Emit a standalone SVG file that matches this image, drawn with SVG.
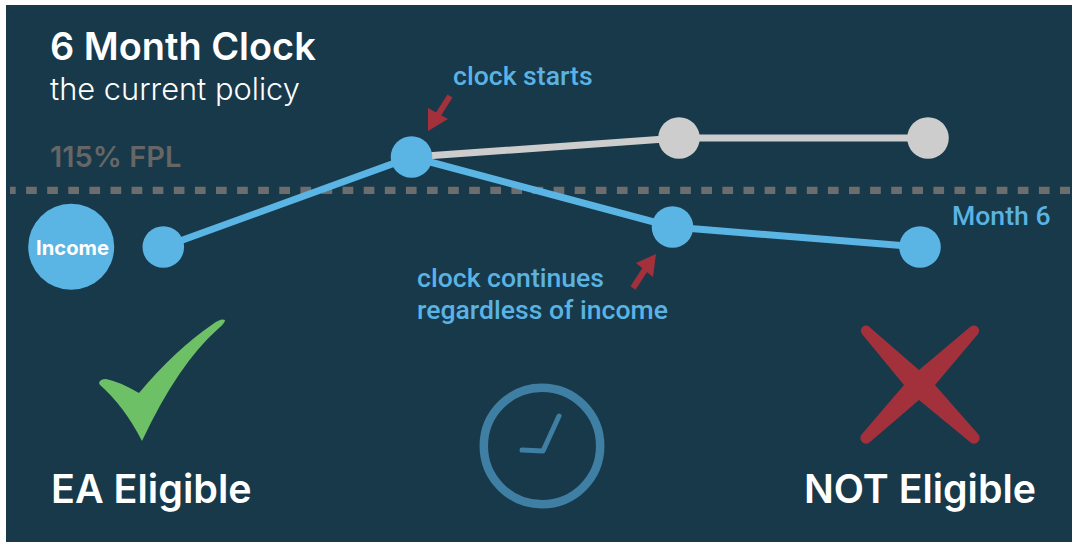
<svg xmlns="http://www.w3.org/2000/svg" width="1072" height="542" viewBox="0 0 1072 542">
<style>
.h{font-family:Inter,"Liberation Sans",sans-serif;fill:#fff;font-weight:600}
.l{font-family:Roboto,"Liberation Sans",sans-serif;fill:#5ab3e3;font-weight:500;font-size:26.6px}
.n{fill:#5ab4e4}.g{fill:#cdcdcd}
.c{fill:none;stroke-width:7}
</style>
<rect width="1072" height="542" fill="#fff"/>
<rect x="6" y="5" width="1066" height="537" fill="#17394a"/>
<g id="titles">
<text class="h" x="50" y="60" font-size="37.9" font-weight="700">6 Month Clock</text>
<text x="50" y="100" font-size="30.8" fill="#fff" font-weight="300" font-family="Inter,'Liberation Sans',sans-serif">the current policy</text>
<text x="50" y="167" font-size="29" fill="#666" font-weight="600" font-family="Inter,'Liberation Sans',sans-serif">115% FPL</text>
</g>
<line id="threshold" x1="10" y1="190.3" x2="1070" y2="190.3" stroke="#6d6d6d" stroke-width="7.3" stroke-dasharray="10.7 10.4" stroke-dashoffset="5"/>
<g id="connectors">
<polyline class="c" stroke="#cdcdcd" points="411.5,157 679,138 928,138"/>
<polyline class="c" stroke="#5ab4e4" points="163.3,247 411.5,157 672.5,227 920,247"/>
<line x1="450" y1="96" x2="436" y2="118" stroke="#a3313c" stroke-width="6"/>
<path d="M428 131L428 108L448 119Z" fill="#a3313c"/>
<line x1="633" y1="288" x2="646" y2="268" stroke="#a3313c" stroke-width="6"/>
<path d="M656 254L636 263L653 277Z" fill="#a3313c"/>
</g>
<g id="income"><circle class="n" cx="71.2" cy="246.8" r="43"/><text x="72.5" y="255" text-anchor="middle" font-size="20.2" font-weight="700" fill="#fff" font-family="Inter,'Liberation Sans',sans-serif">Income</text></g>
<g id="p0"><circle class="n" cx="163.3" cy="247" r="20.8"/></g>
<g id="p1"><circle class="n" cx="411.5" cy="157" r="20.8"/></g>
<g id="p2"><circle class="g" cx="679" cy="138" r="20.8"/></g>
<g id="p3"><circle class="g" cx="928" cy="138" r="20.8"/></g>
<g id="p4"><circle class="n" cx="672.5" cy="227" r="20.8"/></g>
<g id="p5"><circle class="n" cx="920" cy="247" r="20.8"/></g>
<text class="l" x="453" y="85">clock starts</text>
<text class="l" x="952" y="225">Month 6</text>
<text class="l" x="417" y="287">clock continues</text>
<text class="l" x="417" y="319">regardless of income</text>
<g id="eligible">
<path d="M99 383Q100 379 106 379Q118 381 139 393Q175 350 213 324Q221 318 225 320Q225 323 219 328Q178 364 142 441Q124 406 100 385Z" fill="#6ec067"/>
<text class="h" x="51" y="503" font-size="39.5">EA Eligible</text>
</g>
<g id="clock">
<circle cx="542" cy="446" r="58.2" fill="none" stroke="#3f7fa3" stroke-width="8.5"/>
<path d="M559 416L543 451L522 450" fill="none" stroke="#3f7fa3" stroke-width="5" stroke-linecap="round" stroke-linejoin="round"/>
</g>
<g id="not-eligible">
<path d="M870 327.5L919 370L969.5 327.5A5 5 0 0 1 978 334L935 385L978 434A5 5 0 0 1 970 442L919 400L870 442A5 5 0 0 1 862 434L904 385L862 334A5 5 0 0 1 870 327.5Z" fill="#a3313c"/>
<text class="h" x="804" y="503" font-size="39.3">NOT Eligible</text>
</g>
</svg>
